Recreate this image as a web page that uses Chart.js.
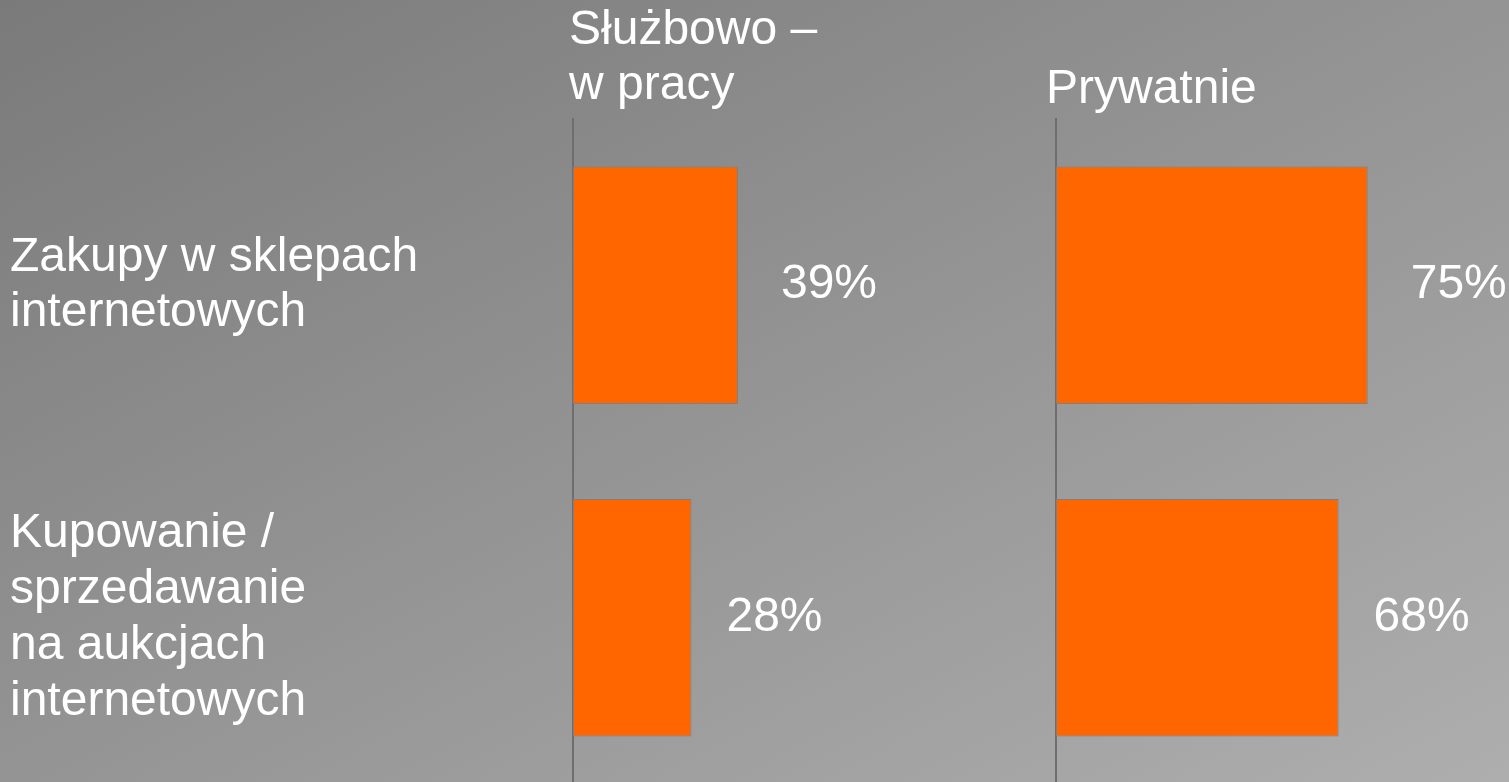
<!DOCTYPE html>
<html>
<head>
<meta charset="utf-8">
<script src="https://cdn.jsdelivr.net/npm/chart.js@4"></script>
<style>
html, body { margin: 0; padding: 0; width: 1509px; height: 782px; overflow: hidden; }
body { position: relative; background: linear-gradient(to bottom right, #7a7a7a, #aeaeae); }
#wrapWork { position: absolute; left: 0; top: 0; width: 996px; height: 784px; }
#wrapPriv { position: absolute; left: 1000px; top: 0; width: 509px; height: 784px; }
</style>
</head>
<body>
<div id="wrapWork"><canvas id="chartWork"></canvas></div>
<div id="wrapPriv"><canvas id="chartPriv"></canvas></div>
<script>
// data
let categories = [
    ["Zakupy w sklepach", "internetowych"],
    ["Kupowanie /", "sprzedawanie", "na aukcjach", "internetowych"]
];
let workValues = [39, 28];
let privateValues = [75, 68];
let workTitle = ["Służbowo –", "w pracy"];
let privateTitle = ["Prywatnie"];

let fontFamily = "'Liberation Sans', Arial, sans-serif";
let orange = "#ff6600";
let labelGap = [43, 35];

Chart.defaults.font.family = fontFamily;
Chart.defaults.color = "#ffffff";

// percent text to the right of each bar
let valueLabels = {
    id: "valueLabels",
    afterDatasetsDraw(chart) {
        let ctx = chart.ctx;
        let meta = chart.getDatasetMeta(0);
        ctx.save();
        ctx.font = "48px " + fontFamily;
        ctx.fillStyle = "#ffffff";
        ctx.textAlign = "left";
        ctx.textBaseline = "middle";
        meta.data.forEach((bar, i) => {
            let v = chart.data.datasets[0].data[i];
            ctx.fillText(v + "%", bar.x + labelGap[i], bar.y);
        });
        ctx.restore();
    }
};

// panel heading above the axis line
let panelHeader = {
    id: "panelHeader",
    afterDraw(chart, args, opts) {
        let ctx = chart.ctx;
        let n = opts.lines.length;
        ctx.save();
        ctx.font = "48px " + fontFamily;
        ctx.fillStyle = "#ffffff";
        ctx.textAlign = "left";
        ctx.textBaseline = "alphabetic";
        opts.lines.forEach((line, i) => {
            ctx.fillText(line, chart.chartArea.left + opts.dx, opts.baseline - (n - 1 - i) * 55);
        });
        ctx.restore();
    }
};

function panelOptions(max, axisWidth, showLabels, header) {
    return {
        responsive: true,
        maintainAspectRatio: false,
        animation: false,
        indexAxis: "y",
        layout: { padding: { top: 119, left: showLabels ? 10 : 0, right: 0, bottom: 0 } },
        plugins: {
            legend: { display: false },
            tooltip: { enabled: false },
            panelHeader: header
        },
        scales: {
            x: { display: false, min: 0, max: max },
            y: {
                afterFit(scale) {
                    scale.width = axisWidth;
                    scale.paddingTop = 0;
                    scale.paddingBottom = 0;
                },
                grid: { display: false },
                border: { display: true, color: "#6e6e6e", width: 2 },
                ticks: {
                    display: showLabels,
                    color: "#ffffff",
                    crossAlign: "far",
                    padding: 0,
                    font: { size: 48, lineHeight: 1.16 }
                }
            }
        }
    };
}

function panelData(values) {
    return {
        labels: categories,
        datasets: [{
            data: values,
            backgroundColor: orange,
            borderColor: "#7f7f7f",
            borderWidth: 1,
            borderSkipped: false,
            barPercentage: 0.715,
            categoryPercentage: 1
        }]
    };
}

let contextWork = document.getElementById("chartWork").getContext("2d");
let contextPriv = document.getElementById("chartPriv").getContext("2d");

new Chart(contextWork, {
    type: "bar",
    data: panelData(workValues),
    options: panelOptions(100, 563, true, { lines: workTitle, dx: -4, baseline: 99 }),
    plugins: [valueLabels, panelHeader]
});

new Chart(contextPriv, {
    type: "bar",
    data: panelData(privateValues),
    options: panelOptions(109, 56, false, { lines: privateTitle, dx: -10, baseline: 103 }),
    plugins: [valueLabels, panelHeader]
});
</script>
</body>
</html>
